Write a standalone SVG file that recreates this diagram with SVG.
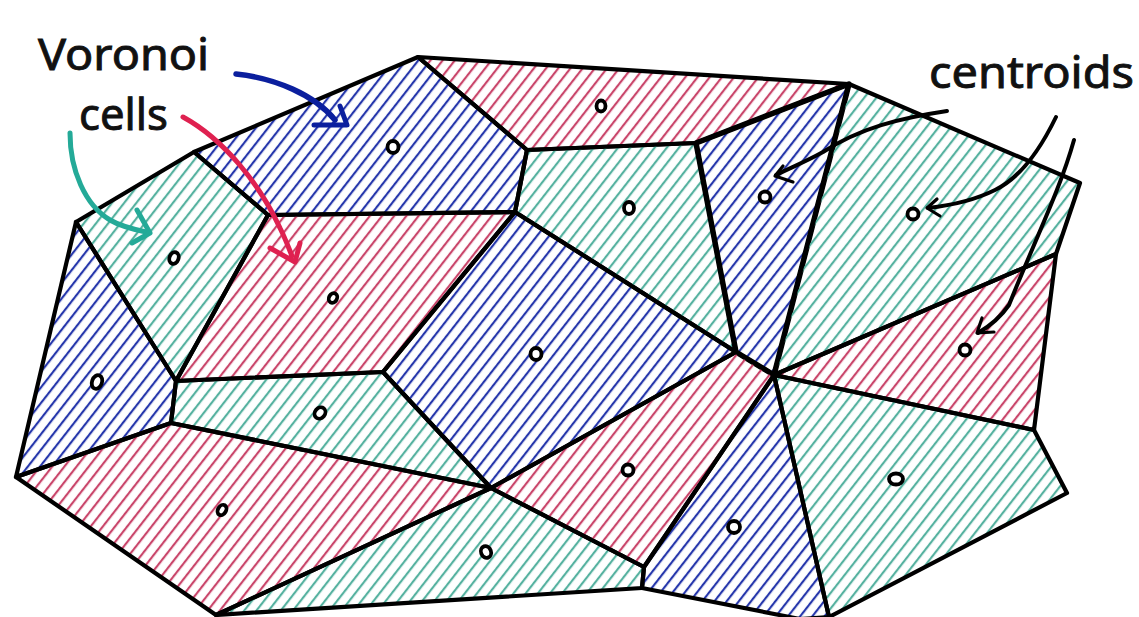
<svg xmlns="http://www.w3.org/2000/svg" width="1139" height="617" viewBox="0 0 1139 617">
<style>
.cell{stroke:#000;stroke-width:4.2;stroke-linejoin:round;stroke-linecap:round}
.b{fill:url(#hb)} .r{fill:url(#hr)} .t{fill:url(#ht)}
.dot{fill:#fff;stroke:#000;stroke-width:3.8}
.lbl{font-family:"Noto Sans","Open Sans","DejaVu Sans",sans-serif;font-size:44px;fill:#111;stroke:#111;stroke-width:0.9}
.arr{fill:none;stroke-linecap:round;stroke-linejoin:round}
</style>
<defs>
<pattern id="hb" width="12" height="9.6" patternUnits="userSpaceOnUse" patternTransform="rotate(-52)">
<line x1="-1" y1="2" x2="13" y2="2" stroke="#2536ab" stroke-width="2.2"/>
</pattern>
<pattern id="hr" width="12" height="9.6" patternUnits="userSpaceOnUse" patternTransform="rotate(-52)">
<line x1="-1" y1="2" x2="13" y2="2" stroke="#c9456a" stroke-width="2.2"/>
</pattern>
<pattern id="ht" width="12" height="9.6" patternUnits="userSpaceOnUse" patternTransform="rotate(-52)">
<line x1="-1" y1="2" x2="13" y2="2" stroke="#55b19f" stroke-width="2.2"/>
</pattern>
</defs>
<rect width="1139" height="617" fill="#fff"/>

<g id="cell-red-top"><polygon class="cell r" points="418,57 849,84 696,143 527,150"/><ellipse class="dot" cx="601" cy="106" rx="4.5" ry="5.5"/></g>
<g id="cell-blue-top"><polygon class="cell b" points="194,152 418,57 527,150 515,212 268,215"/><ellipse class="dot" cx="393" cy="147" rx="5.5" ry="6"/></g>
<g id="cell-teal-topleft"><polygon class="cell t" points="76,222 194,152 268,215 176,381"/><ellipse class="dot" cx="174" cy="258" rx="4.5" ry="6" transform="rotate(20 174 258)"/></g>
<g id="cell-blue-left"><polygon class="cell b" points="76,222 176,381 171,423 16,477"/><ellipse class="dot" cx="97" cy="382" rx="5" ry="7" transform="rotate(20 97 382)"/></g>
<g id="cell-red-mid"><polygon class="cell r" points="268,215 515,212 383,372 176,381"/><ellipse class="dot" cx="333" cy="298" rx="4" ry="5" transform="rotate(30 333 298)"/></g>
<g id="cell-teal-midleft"><polygon class="cell t" points="176,381 383,372 491,488 171,423"/><ellipse class="dot" cx="320" cy="413" rx="5" ry="6" transform="rotate(40 320 413)"/></g>
<g id="cell-red-bottomleft"><polygon class="cell r" points="16,477 171,423 491,488 216,615"/><ellipse class="dot" cx="222" cy="510" rx="4" ry="5.5" transform="rotate(30 222 510)"/></g>
<g id="cell-teal-bottom"><polygon class="cell t" points="216,615 491,488 644,567 642,588"/><ellipse class="dot" cx="486" cy="552" rx="5" ry="6" transform="rotate(-20 486 552)"/></g>
<g id="cell-blue-center"><polygon class="cell b" points="515,212 736,352 491,488 383,372"/><ellipse class="dot" cx="536" cy="354" rx="5.5" ry="6"/></g>
<g id="cell-teal-center"><polygon class="cell t" points="527,150 696,143 736,352 515,212"/><ellipse class="dot" cx="629" cy="208" rx="5" ry="6"/></g>
<g id="cell-blue-narrow"><polygon class="cell b" points="696,143 849,84 774,375 736,352" style="stroke-width:5.5"/><ellipse class="dot" cx="765" cy="197" rx="5.5" ry="5.5"/></g>
<g id="cell-teal-right"><polygon class="cell t" points="849,84 1080,183 1056,254 774,375"/><ellipse class="dot" cx="913" cy="214" rx="5.5" ry="5.5"/></g>
<g id="cell-red-right"><polygon class="cell r" points="774,375 1056,254 1034,430"/><ellipse class="dot" cx="965" cy="350" rx="5.5" ry="5.5"/></g>
<g id="cell-teal-bottomright"><polygon class="cell t" points="774,375 1034,430 1067,493 829,617"/><ellipse class="dot" cx="896" cy="479" rx="7" ry="5.5"/></g>
<g id="cell-blue-bottom"><polygon class="cell b" points="774,375 829,617 800,619 642,588 644,567"/><ellipse class="dot" cx="734" cy="527" rx="6" ry="6"/></g>
<g id="cell-red-bottomcenter"><polygon class="cell r" points="736,352 774,375 644,567 491,488"/><ellipse class="dot" cx="628" cy="470" rx="5.5" ry="5.5"/></g>

<g id="connectors">
<path class="arr" d="M236,74 C275,78 315,95 335,120" stroke="#0b1f9e" stroke-width="5.5"/>
<path class="arr" d="M340,106 L347,125 L314,125" stroke="#0b1f9e" stroke-width="5"/>
<path class="arr" d="M183,117 C225,140 260,185 280,228 C285,238 288,246 292,256" stroke="#df2150" stroke-width="5"/>
<path class="arr" d="M300,243 L295,262 L270,248" stroke="#df2150" stroke-width="5"/>
<path class="arr" d="M70,133 C70,170 85,205 110,220 C120,226 132,229 146,232" stroke="#24aa98" stroke-width="5"/>
<path class="arr" d="M137,210 L150,233 L132,243" stroke="#24aa98" stroke-width="5"/>
<path class="arr" d="M947,111 C900,118 860,128 823,152 C805,162 790,168 776,175" stroke="#000" stroke-width="4"/>
<path class="arr" d="M783,166 L775,176 L793,182" stroke="#000" stroke-width="3.2"/>
<path class="arr" d="M1056,117 C1040,150 1020,178 995,190 C975,200 955,205 928,208" stroke="#000" stroke-width="4"/>
<path class="arr" d="M937,199 L927,208 L940,216" stroke="#000" stroke-width="3.2"/>
<path class="arr" d="M1074,140 C1060,190 1035,240 1009,305 C1000,318 990,326 978,333" stroke="#000" stroke-width="4"/>
<path class="arr" d="M982,318 L977,333 L994,332" stroke="#000" stroke-width="3.2"/>
</g>

<g id="labels">
<text class="lbl" x="38" y="70" textLength="171" lengthAdjust="spacingAndGlyphs">Voronoi</text>
<text class="lbl" x="79" y="130" textLength="89" lengthAdjust="spacingAndGlyphs">cells</text>
<text class="lbl" x="929" y="88" textLength="205" lengthAdjust="spacingAndGlyphs">centroids</text>
</g>
</svg>
